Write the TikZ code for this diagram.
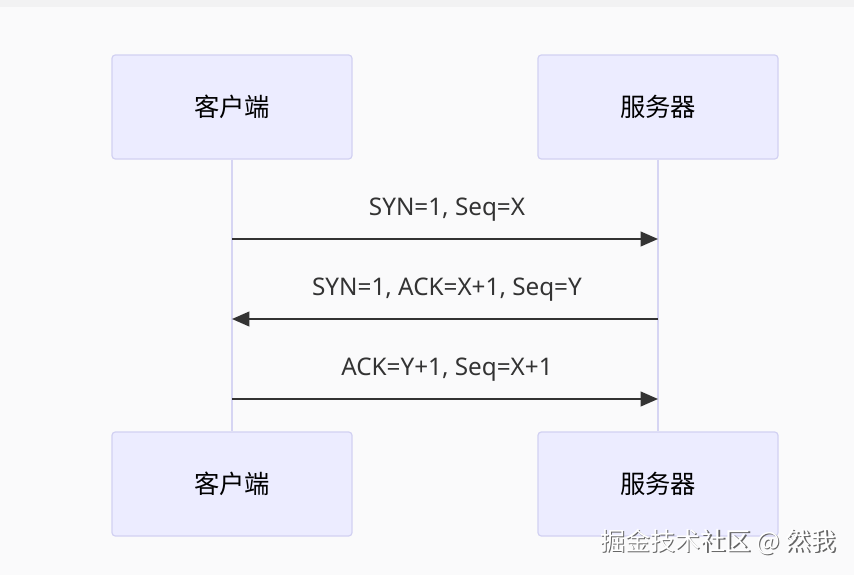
\documentclass[tikz,border=0pt]{standalone}
\usepackage{fontspec}
\setmainfont{Noto Sans}
\newfontfamily\cjk{Noto Sans CJK SC}
\usetikzlibrary{arrows.meta}

\definecolor{pagebg}{HTML}{FAFAFB}
\definecolor{topbar}{HTML}{F2F2F3}
\definecolor{actorfill}{HTML}{ECECFF}
\definecolor{actorline}{HTML}{D2D1F2}
\definecolor{lifecol}{HTML}{D6D5F3}
\definecolor{msgcol}{HTML}{333333}

\tikzset{
  actor/.style={draw=actorline, fill=actorfill, line width=0.9pt, rounded corners=2.5pt,
    minimum width=180pt, minimum height=78pt, font=\cjk\fontsize{19}{22}\selectfont, text=black},
  lifeline/.style={draw=lifecol, line width=1.5pt},
  msg/.style={draw=msgcol, line width=1.5pt, -{Triangle[length=13pt,width=11pt]}},
  msglabel/.style={font=\fontsize{18.2}{22}\selectfont, text=msgcol}
}

\begin{document}
\begin{tikzpicture}[x=0.75pt, y=-0.75pt]
    \fill[pagebg] (0,0) rectangle (854,575);
    \fill[topbar] (0,0) rectangle (854,7);
    \useasboundingbox (0,0) rectangle (854,575);
    % actors
    \node[actor] (client) at (232,107) {客户端};
    \node[actor] (server) at (658,107) {服务器};
    \node[actor] (clientEnd) at (232,484) {客户端};
    \node[actor] (serverEnd) at (658,484) {服务器};
    \draw[lifeline] (client.south) -- (clientEnd.north);
    \draw[lifeline] (server.south) -- (serverEnd.north);
    % messages
    \foreach \i/\y/\dir/\txt in {1/239/r/{SYN=1, Seq=X}, 2/319/l/{SYN=1, ACK=X+1, Seq=Y}, 3/399/r/{ACK=Y+1, Seq=X+1}} {
        \coordinate (cl\i) at (client.south |- 0,\y);
        \coordinate (sv\i) at (server.south |- 0,\y);
        \node[msglabel] (lbl\i) at (447,\y-29) {\txt};
        \if r\dir
            \draw[msg] (cl\i) -- (sv\i);
        \else
            \draw[msg] (sv\i) -- (cl\i);
        \fi
    }
    % watermark
    \node[font=\cjk\fontsize{18.8}{22}\selectfont, text=black!60] (markShadow) at (719.5,543.5) {掘金技术社区 @ 然我};
    \node[font=\cjk\fontsize{18.8}{22}\selectfont, text=white] (mark) at (718,542) {掘金技术社区 @ 然我};
\end{tikzpicture}
\end{document}
